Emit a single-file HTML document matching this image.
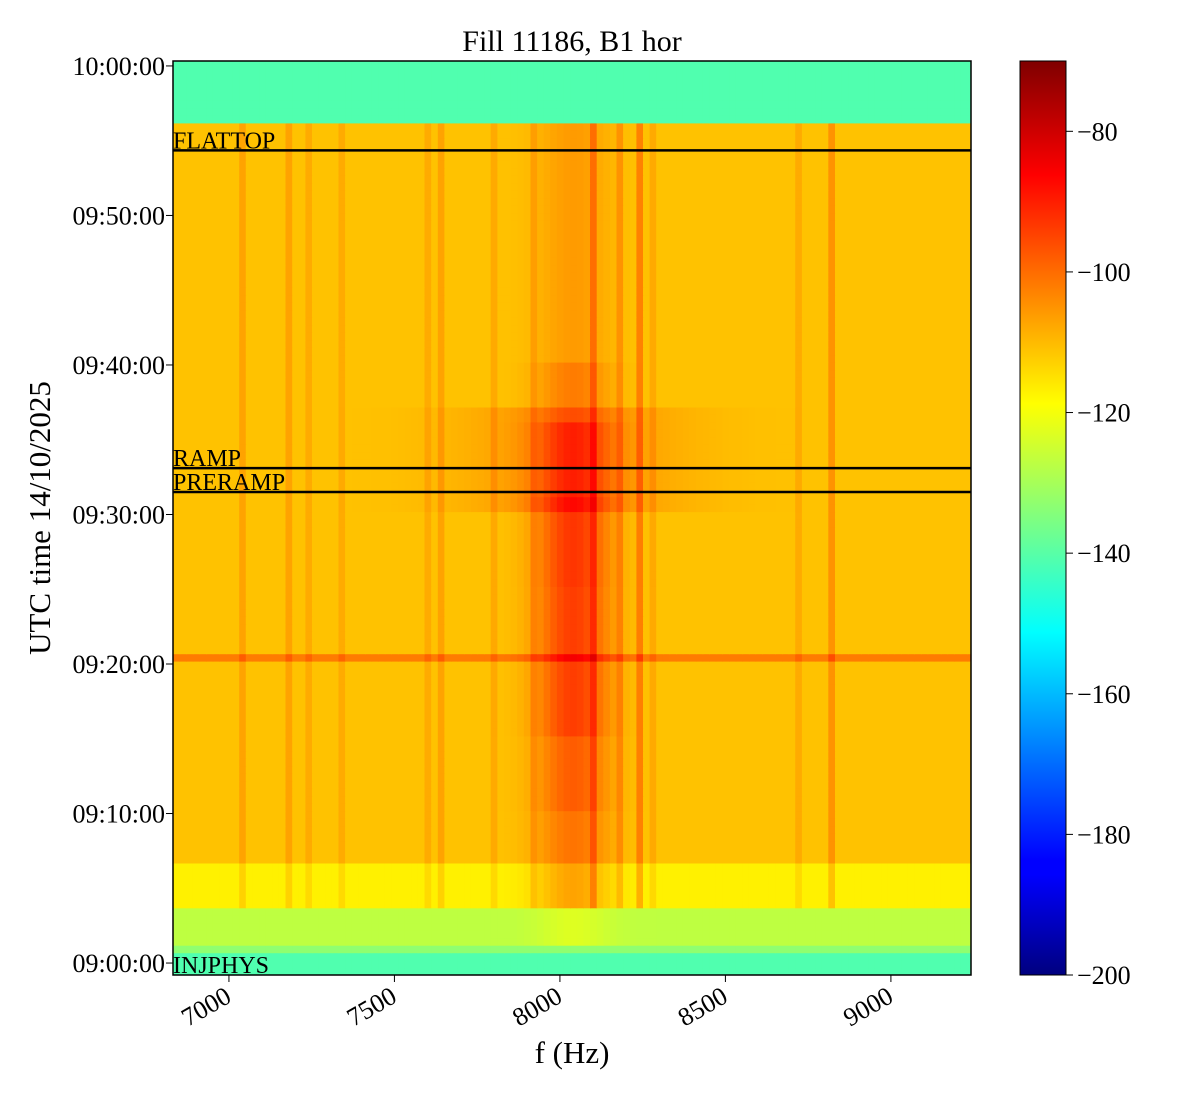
<!DOCTYPE html>
<html><head><meta charset="utf-8"><style>
body{margin:0;background:#fff;}
svg text{font-family:"Liberation Serif",serif;fill:#000;}
</style></head><body>
<svg id="chart" width="1200" height="1100" xmlns="http://www.w3.org/2000/svg">
<text x="572" y="51" font-size="30" text-anchor="middle">Fill 11186, B1 hor</text>
<defs>
<clipPath id="plotclip"><rect x="173" y="61" width="798" height="914"/></clipPath>
<linearGradient id="jet" x1="0" y1="1" x2="0" y2="0">
<stop offset="0" stop-color="#00007f"/><stop offset="0.11" stop-color="#0000ff"/><stop offset="0.125" stop-color="#0000ff"/><stop offset="0.375" stop-color="#00ffff"/><stop offset="0.625" stop-color="#ffff00"/><stop offset="0.875" stop-color="#ff0000"/><stop offset="1" stop-color="#7f0000"/></linearGradient></defs>
<g id="cells" clip-path="url(#plotclip)"></g>
<g id="overlay"></g>
<text x="572" y="1063" font-size="31" text-anchor="middle">f (Hz)</text>
<text transform="translate(50,518) rotate(-90)" font-size="31" text-anchor="middle">UTC time 14/10/2025</text>
<rect x="1020" y="61" width="46" height="914" fill="url(#jet)" stroke="#000" stroke-width="1"/>
<g id="cbticks"></g>
</svg>
<script>
// ---- data ----
const bandStarts = [-0.8, 0.5, 1.0, 3.3, 6.5, 56.0];   // minutes after 09:00:00
const bandLevels = [-141, -133, -127, -117, -111, -141]; // dB
const humpTimes = [3.3, 10, 15, 25, 31, 36, 40, 50];    // segment starts (min)
const humpAmps  = [10, 13, 17, 18, 15, 9, 5, 5];        // dB boost at ~8030 Hz
const lineFreqs = [7040, 7190, 7240, 7640, 7800, 7920, 8100, 8180, 8240, 8290, 8830, 8720, 7600, 7350];
const lineBoost = [4, 4, 3, 4, 3, 3, 7, 5, 8, 3, 6, 3, 3, 3];
const eventNames = ["FLATTOP", "RAMP", "PRERAMP", "INJPHYS"];
const eventTimes = [54.35, 33.1, 31.5, -0.8];
const hlineTime = 20.5, hlineBoost = 9;
const xTicks = [7000, 7500, 8000, 8500, 9000];
const yTicks = [0, 10, 20, 30, 40, 50, 60];
const yTickLabels = ["09:00:00","09:10:00","09:20:00","09:30:00","09:40:00","09:50:00","10:00:00"];
const cbTicks = [-80, -100, -120, -140, -160, -180, -200];

// ---- axes ----
const X0=173,X1=971,Y0=61,Y1=975;
const fMin=6831,fMax=9242,tMin=-0.8,tMax=60.33;
const xs=f=>X0+(f-fMin)/(fMax-fMin)*(X1-X0);
const ys=t=>Y1-(t-tMin)/(tMax-tMin)*(Y1-Y0);
const cs=v=>975-(v+200)/130*914;
const NS="http://www.w3.org/2000/svg";
function mk(tag,at,parent){const e=document.createElementNS(NS,tag);for(const k in at)e.setAttribute(k,at[k]);parent.appendChild(e);return e;}
function jet(v){let x=Math.max(0,Math.min(1,(v+200)/130));
 const r=Math.min(Math.max(Math.min(4*x-1.5,-4*x+4.5),0),1),g=Math.min(Math.max(Math.min(4*x-0.5,-4*x+3.5),0),1),b=Math.min(Math.max(Math.min(4*x+0.5,-4*x+2.5),0),1);
 return `rgb(${Math.round(r*255)},${Math.round(g*255)},${Math.round(b*255)})`;}
function stepLookup(starts,vals,t){let v=vals[0];for(let i=0;i<starts.length;i++)if(t>=starts[i])v=vals[i];return v;}

const cells=document.getElementById('cells');
const df=20,dt=0.5;
for(let t=tMin;t<tMax;t+=dt){
 const base=stepLookup(bandStarts,bandLevels,t);
 const active=t>=3.3&&t<56;
 const ha=active?stepLookup(humpTimes,humpAmps,t):(t>1&&t<3.3?4:0);
 for(let f=fMin;f<fMax;f+=df){
  let v=base;
  const d=(f-8030)/110; v+=ha*Math.exp(-d*d);
  if(t>30&&t<37){const w=(f-8030)/330;v+=6*Math.exp(-w*w);}
  if(active){for(let i=0;i<lineFreqs.length;i++)if(Math.abs(f+df/2-lineFreqs[i])<df/2)v+=lineBoost[i];}
  if(Math.abs(t+dt/2-hlineTime)<dt/2)v+=hlineBoost;
  const y1=ys(t+dt),y2=ys(t);
  const r=mk('rect',{x:xs(f).toFixed(1),y:y1.toFixed(1),width:(xs(f+df)-xs(f)+0.6).toFixed(1),height:(y2-y1+0.6).toFixed(1),fill:jet(v)},cells);
  
  
 }
}
const ov=document.getElementById('overlay');
for(let i=0;i<eventNames.length;i++){
 const y=ys(eventTimes[i]);
 if(i<3){const l=mk('line',{x1:X0,x2:X1,y1:y,y2:y,stroke:'#000','stroke-width':2.5},ov);
 
 }
 const tx=mk('text',{x:X0,y:y-2,'font-size':24},ov);tx.textContent=eventNames[i];
 
 
}
const fr=mk('rect',{x:X0,y:Y0,width:X1-X0,height:Y1-Y0,fill:'none',stroke:'#000','stroke-width':1.5},ov);


xTicks.forEach(f=>{const x=xs(f);mk('line',{x1:x,x2:x,y1:Y1,y2:Y1+7,stroke:'#000'},ov);
 const t=mk('text',{transform:`translate(${x+4},${Y1+26}) rotate(-30)`,'font-size':26,'text-anchor':'end'},ov);t.textContent=f;
 
 });
yTicks.forEach((m,i)=>{const y=ys(m);mk('line',{x1:X0-7,x2:X0,y1:y,y2:y,stroke:'#000'},ov);
 const t=mk('text',{x:X0-8,y:y+9,'font-size':26,'text-anchor':'end'},ov);t.textContent=yTickLabels[i];
 
 });
const cb=document.getElementById('cbticks');
cbTicks.forEach(v=>{const y=cs(v);mk('line',{x1:1066,x2:1073,y1:y,y2:y,stroke:'#000'},cb);
 const t=mk('text',{x:1077,y:y+9,'font-size':26},cb);t.textContent='\u2212'+Math.abs(v);
 
 });
</script>
</body></html>
